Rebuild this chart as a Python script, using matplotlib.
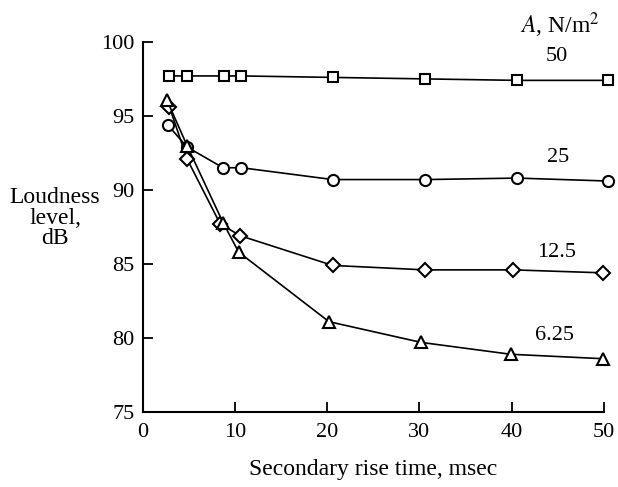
import matplotlib.pyplot as plt

plt.rcParams['font.family'] = ['Liberation Serif', 'DejaVu Serif']

# secondary rise time (msec) and loudness level (dB) per peak amplitude
x_50 = [2.8, 4.8, 8.8, 10.7, 20.6, 30.6, 40.6, 50.5]
y_50 = [97.7, 97.7, 97.7, 97.7, 97.6, 97.5, 97.4, 97.4]

x_25 = [2.7, 4.8, 8.7, 10.7, 20.6, 30.6, 40.6, 50.5]
y_25 = [94.4, 92.9, 91.5, 91.5, 90.7, 90.7, 90.8, 90.6]

x_125 = [2.9, 4.8, 8.4, 10.6, 20.6, 30.6, 40.2, 49.9]
y_125 = [95.6, 92.1, 87.7, 86.9, 84.9, 84.6, 84.6, 84.4]

x_625 = [2.6, 4.8, 8.7, 10.4, 20.2, 30.2, 39.9, 49.9]
y_625 = [96.1, 93.0, 87.8, 85.8, 81.1, 79.7, 78.9, 78.6]

fig = plt.figure(figsize=(6.18, 4.87), dpi=100)
ax = fig.add_axes([0.231, 0.154, 0.746, 0.76])

style = dict(color='black', lw=1.2, mfc='white', mec='black', mew=1.5, clip_on=False)
ax.plot(x_50, y_50, marker='s', ms=7.5, **style)
ax.plot(x_25, y_25, marker='o', ms=8, **style)
ax.plot(x_125, y_125, marker='D', ms=7.5, **style)
ax.plot(x_625, y_625, marker='^', ms=8.5, **style)

ax.set_xlim(0, 50)
ax.set_ylim(75, 100)
ax.set_xticks([0, 10, 20, 30, 40, 50])
ax.set_yticks([75, 80, 85, 90, 95, 100])
ax.tick_params(direction='in', length=7, width=1.3, labelsize=16)
ax.tick_params(axis='x', pad=8)
ax.tick_params(axis='y', pad=6)
for s in ['top', 'right']:
    ax.spines[s].set_visible(False)
for s in ['left', 'bottom']:
    ax.spines[s].set_linewidth(1.5)

ax.set_xlabel('Secondary rise time, msec', fontsize=17, labelpad=12)
fig.text(0.089, 0.552, 'Loudness\nlevel,\ndB', ha='center', va='center',
         fontsize=17, linespacing=0.95)

ax.text(45.2, 101.15, '$A$, N/m$^2$', fontsize=17, ha='center', va='center',
        math_fontfamily='stix')
ax.text(44.9, 99.0, '50', fontsize=16, ha='center', va='center')
ax.text(45.0, 92.2, '25', fontsize=16, ha='center', va='center')
ax.text(44.9, 85.8, '12.5', fontsize=16, ha='center', va='center')
ax.text(44.7, 80.2, '6.25', fontsize=16, ha='center', va='center')

fig.savefig('out.png', dpi=100)
